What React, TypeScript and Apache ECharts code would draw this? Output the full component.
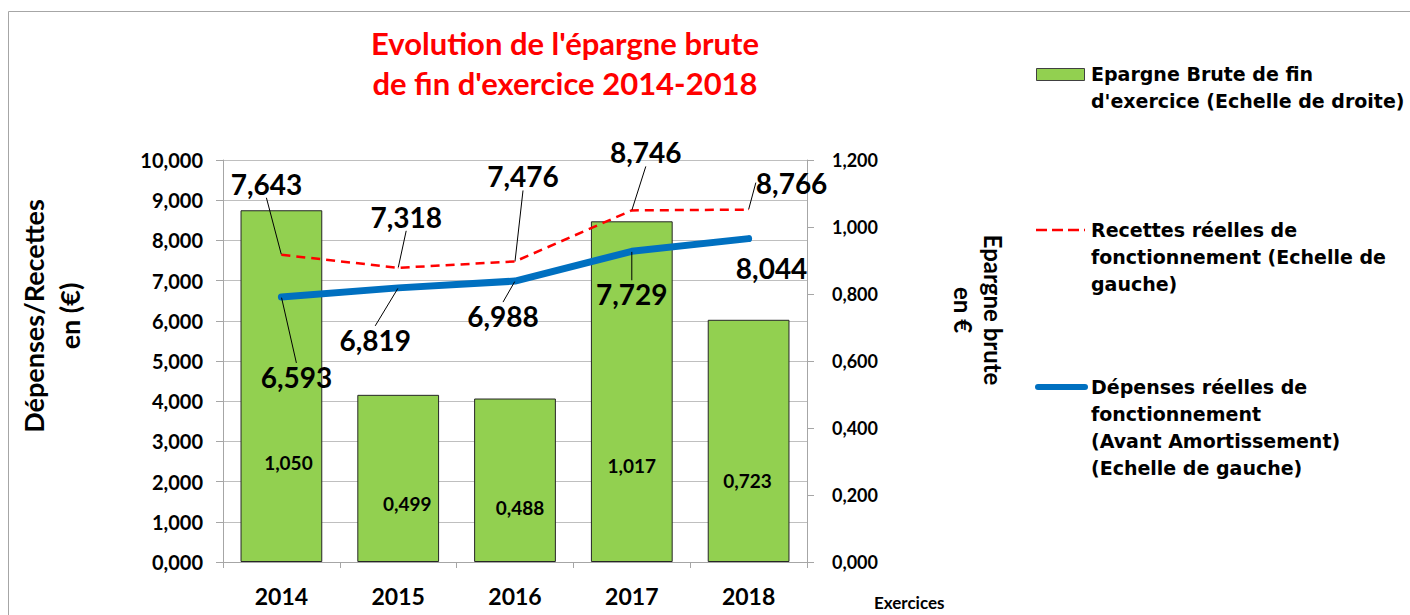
import React, { useEffect, useRef } from "react";
import * as echarts from "echarts";

// ---- data ----
const years = ["2014", "2015", "2016", "2017", "2018"];
const epargneBrute = [1.05, 0.499, 0.488, 1.017, 0.723];
const recettes = [7.643, 7.318, 7.476, 8.746, 8.766];
const depenses = [6.593, 6.819, 6.988, 7.729, 8.044];

const leftMin = 0;
const leftMax = 10;
const leftInterval = 1;
const rightMin = 0;
const rightMax = 1.2;
const rightInterval = 0.2;

const titleText = "Evolution de l'épargne brute\nde fin d'exercice 2014-2018";
const leftAxisName = "Dépenses/Recettes\nen (€)";
const rightAxisName = "Epargne brute\nen €";
const xAxisName = "Exercices";
const legendEpargne = "Epargne Brute de fin\nd'exercice (Echelle de droite)";
const legendRecettes = "Recettes réelles de\nfonctionnement (Echelle de\ngauche)";
const legendDepenses = "Dépenses réelles de\nfonctionnement\n(Avant Amortissement)\n(Echelle de gauche)";

// ---- label placement (styles) ----
const barLabelOffsets = [[7, -100], [9, -59], [5, -55], [0, -97], [-1, -82]];
const recettesLabelOffsets = [[-15, -71], [8, -51], [8, -85], [14, -58], [43, -27]];
const depensesLabelOffsets = [[15, 80], [-23, 52], [-12, 35], [0, 43], [23, 29]];

const fmt = (v: number) => v.toFixed(3).replace(".", ",");
const FONT = "Lato";
const LEGEND_FONT = '"DejaVu Sans"';

export default function App() {
  const ref = useRef<HTMLDivElement>(null);

  useEffect(() => {
    document.body.style.margin = "0";
    document.body.style.overflow = "hidden";
    if (!ref.current) return;
    const chart = echarts.init(ref.current, undefined, { renderer: "svg" });

    const pointLayout = (offsets: number[][]) => (params: any) => {
      const r = params.rect;
      const o = offsets[params.dataIndex];
      return {
        x: r.x + r.width / 2 + o[0],
        y: r.y + r.height / 2 + o[1],
        align: "center",
        verticalAlign: "middle",
      };
    };
    const barLayout = (params: any) => {
      const r = params.rect;
      const o = barLabelOffsets[params.dataIndex];
      return {
        x: r.x + r.width / 2 + o[0],
        y: r.y + r.height + o[1],
        align: "center",
        verticalAlign: "middle",
      };
    };

    const lineLabel = {
      show: true,
      formatter: (p: any) => fmt(p.value),
      fontFamily: FONT,
      fontWeight: "bold",
      fontSize: 28,
      color: "#000",
    };
    const lineLabelLine = { show: true, lineStyle: { color: "#000", width: 1 } };

    chart.setOption({
      animation: false,
      backgroundColor: "#fff",
      textStyle: { fontFamily: FONT },
      grid: { left: 223, right: 603, top: 160, bottom: 53, containLabel: false },
      xAxis: {
        type: "category",
        data: years,
        axisLine: { show: true, lineStyle: { color: "#a6a6a6", width: 1 } },
        axisTick: { show: true, length: 6, lineStyle: { color: "#a6a6a6" } },
        axisLabel: {
          fontFamily: FONT,
          fontWeight: "bold",
          fontSize: 23,
          color: "#000",
          margin: 22,
        },
      },
      yAxis: [
        {
          type: "value",
          min: leftMin,
          max: leftMax,
          interval: leftInterval,
          position: "left",
          axisLine: { show: true, lineStyle: { color: "#a6a6a6", width: 1 } },
          axisTick: { show: true, length: 7, lineStyle: { color: "#a6a6a6" } },
          splitLine: { show: true, lineStyle: { color: "#bfbfbf", width: 1 } },
          axisLabel: {
            formatter: (v: number) => fmt(v),
            fontFamily: FONT,
            fontWeight: "bold",
            fontSize: 20,
            color: "#000",
            margin: 20,
          },
        },
        {
          type: "value",
          min: rightMin,
          max: rightMax,
          interval: rightInterval,
          position: "right",
          axisLine: { show: true, lineStyle: { color: "#a6a6a6", width: 1 } },
          axisTick: { show: true, length: 7, lineStyle: { color: "#a6a6a6" } },
          splitLine: { show: false },
          axisLabel: {
            formatter: (v: number) => fmt(v),
            fontFamily: FONT,
            fontWeight: "bold",
            fontSize: 18,
            color: "#000",
            margin: 25,
          },
        },
      ],
      series: [
        {
          name: "Epargne Brute de fin d'exercice (Echelle de droite)",
          type: "bar",
          yAxisIndex: 1,
          data: epargneBrute,
          barCategoryGap: "30%",
          itemStyle: { color: "#92d050", borderColor: "#262626", borderWidth: 1 },
          label: {
            show: true,
            formatter: (p: any) => fmt(p.value),
            fontFamily: FONT,
            fontWeight: "bold",
            fontSize: 19,
            color: "#000",
          },
          labelLayout: barLayout,
          z: 2,
        },
        {
          name: "Recettes réelles de fonctionnement (Echelle de gauche)",
          type: "line",
          yAxisIndex: 0,
          data: recettes,
          symbol: "circle",
          symbolSize: 1,
          itemStyle: { color: "#ff0000" },
          lineStyle: { color: "#ff0000", width: 2.5, type: [9, 6] },
          label: lineLabel,
          labelLine: lineLabelLine,
          labelLayout: pointLayout(recettesLabelOffsets),
          z: 3,
        },
        {
          name: "Dépenses réelles de fonctionnement (Avant Amortissement) (Echelle de gauche)",
          type: "line",
          yAxisIndex: 0,
          data: depenses.map((v, i) => ({
            value: v,
            labelLine: { show: i !== depenses.length - 1 },
          })),
          symbol: "circle",
          symbolSize: 1,
          itemStyle: { color: "#0070c0" },
          lineStyle: { color: "#0070c0", width: 7, cap: "round", join: "round" },
          label: lineLabel,
          labelLine: lineLabelLine,
          labelLayout: pointLayout(depensesLabelOffsets),
          z: 4,
        },
      ],
      graphic: [
        {
          type: "rect",
          silent: true,
          shape: { x: 8.5, y: 11.5, width: 1500, height: 700 },
          style: { fill: "none", stroke: "#a6a6a6", lineWidth: 1 },
          z: -10,
        },
        {
          type: "text",
          x: 565,
          y: 63,
          style: {
            text: titleText,
            fill: "#ff0000",
            font: `bold 31px ${FONT}`,
            align: "center",
            verticalAlign: "middle",
            lineHeight: 40,
          },
        },
        {
          type: "text",
          x: 51,
          y: 316,
          rotation: Math.PI / 2,
          style: {
            text: leftAxisName,
            fill: "#000",
            font: `bold 27px ${FONT}`,
            align: "center",
            verticalAlign: "middle",
            lineHeight: 36,
          },
        },
        {
          type: "text",
          x: 978,
          y: 310,
          rotation: -Math.PI / 2,
          style: {
            text: rightAxisName,
            fill: "#000",
            font: `bold 24px ${FONT}`,
            align: "center",
            verticalAlign: "middle",
            lineHeight: 30,
          },
        },
        {
          type: "text",
          x: 874,
          y: 602,
          style: {
            text: xAxisName,
            fill: "#000",
            font: `bold 17px ${FONT}`,
            align: "left",
            verticalAlign: "middle",
          },
        },
        // legend
        {
          type: "rect",
          shape: { x: 1036.5, y: 68.5, width: 48, height: 12 },
          style: { fill: "#92d050", stroke: "#404040", lineWidth: 1 },
        },
        {
          type: "text",
          x: 1091,
          y: 60.5,
          style: {
            text: legendEpargne,
            fill: "#000",
            font: `bold 19px ${LEGEND_FONT}`,
            align: "left",
            verticalAlign: "top",
            lineHeight: 27,
          },
        },
        {
          type: "line",
          shape: { x1: 1036, y1: 230, x2: 1085, y2: 230 },
          style: { stroke: "#ff0000", lineWidth: 2.5, lineDash: [11, 5] },
        },
        {
          type: "text",
          x: 1091,
          y: 216.5,
          style: {
            text: legendRecettes,
            fill: "#000",
            font: `bold 19px ${LEGEND_FONT}`,
            align: "left",
            verticalAlign: "top",
            lineHeight: 27,
          },
        },
        {
          type: "line",
          shape: { x1: 1038, y1: 387, x2: 1085, y2: 387 },
          style: { stroke: "#0070c0", lineWidth: 6, lineCap: "round" },
        },
        {
          type: "text",
          x: 1091,
          y: 373.5,
          style: {
            text: legendDepenses,
            fill: "#000",
            font: `bold 19px ${LEGEND_FONT}`,
            align: "left",
            verticalAlign: "top",
            lineHeight: 27,
          },
        },
      ],
    });

    return () => chart.dispose();
  }, []);

  return <div ref={ref} style={{ width: 1410, height: 615 }} />;
}
